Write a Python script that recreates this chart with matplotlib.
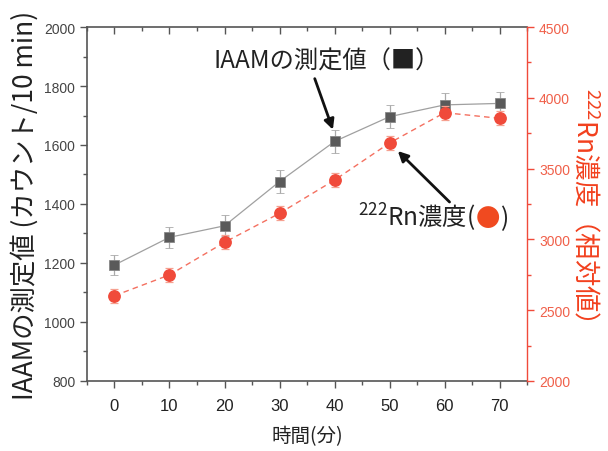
import matplotlib
matplotlib.use("Agg")
import matplotlib.pyplot as plt
from matplotlib.ticker import MultipleLocator

plt.rcParams['font.family'] = ['Liberation Sans', 'Noto Sans CJK JP', 'DejaVu Sans']
plt.rcParams['mathtext.default'] = 'regular'

time_min = [0, 10, 20, 30, 40, 50, 60, 70]
iaam = [1193, 1287, 1326, 1476, 1612, 1696, 1736, 1741]
iaam_err = [34, 36, 36, 38, 40, 40, 40, 40]
rn = [2602, 2749, 2979, 3184, 3419, 3681, 3895, 3855]
rn_err = [50, 50, 50, 50, 50, 50, 50, 50]

x_ticks = [0, 10, 20, 30, 40, 50, 60, 70]
left_ticks = [800, 1000, 1200, 1400, 1600, 1800, 2000]
right_ticks = [2000, 2500, 3000, 3500, 4000, 4500]

gray = '#555555'
red = '#f04a3a'
tick_red = '#f0604a'
label_red = '#f2401e'
CJK = ['Noto Sans CJK JP', 'DejaVu Sans']

fig = plt.figure(figsize=(6.08, 4.52), dpi=100)
ax = fig.add_axes([0.143, 0.155, 0.724, 0.783])
ax2 = ax.twinx()

ax.errorbar(time_min, iaam, yerr=iaam_err, fmt='s', color='#5a5a5a', ms=7.5,
            mec='#888888', mew=0.6, ecolor='#aaaaaa', elinewidth=0.9, capsize=3,
            capthick=0.9, zorder=3)
ax.plot(time_min, iaam, '-', color='#a0a0a0', lw=0.9, zorder=2)

ax2.errorbar(time_min, rn, yerr=rn_err, fmt='o', color=red, ms=8.2,
             mec=red, ecolor='#f6a090', elinewidth=0.9, capsize=3,
             capthick=0.9, zorder=3)
ax2.plot(time_min, rn, '--', color='#f47060', lw=1.0, dashes=(4, 3), zorder=2)

ax.set_xlim(-5, 75)
ax.set_ylim(800, 2000)
ax2.set_ylim(2000, 4500)
ax.set_xticks(x_ticks)
ax.set_yticks(left_ticks)
ax2.set_yticks(right_ticks)
ax.xaxis.set_minor_locator(MultipleLocator(5))
ax.yaxis.set_minor_locator(MultipleLocator(100))
ax2.yaxis.set_minor_locator(MultipleLocator(250))

for s in ['left', 'bottom', 'top']:
    ax.spines[s].set_color(gray)
    ax.spines[s].set_linewidth(1.2)
ax.spines['right'].set_visible(False)
for s in ['left', 'bottom', 'top']:
    ax2.spines[s].set_visible(False)
ax2.spines['right'].set_color(red)
ax2.spines['right'].set_linewidth(1.0)

ax.tick_params(axis='x', which='both', direction='out', top=False, color=gray,
               labelsize=12, labelcolor='#222222', pad=7)
ax.tick_params(axis='x', which='major', length=5, width=1)
ax.tick_params(axis='x', which='minor', length=3, width=1)
ax.tick_params(axis='y', which='both', direction='out', color=gray,
               labelsize=10, labelcolor='#444444')
ax.tick_params(axis='y', which='major', length=5, width=1)
ax.tick_params(axis='y', which='minor', length=3, width=1)
ax2.tick_params(axis='y', which='both', direction='out', color=red,
                labelsize=10, labelcolor=tick_red)
ax2.tick_params(axis='y', which='major', length=5, width=1)
ax2.tick_params(axis='y', which='minor', length=3, width=1)

# top ticks inward
secx = ax.secondary_xaxis('top')
secx.set_xticks(x_ticks)
secx.xaxis.set_minor_locator(MultipleLocator(5))
secx.tick_params(which='both', direction='in', color=gray, labeltop=False)
secx.tick_params(which='major', length=5, width=1)
secx.tick_params(which='minor', length=3, width=1)
secx.spines['top'].set_visible(False)

ax.set_xlabel('時間(分)', fontsize=14, color='#222222', labelpad=9, family=CJK)
ax.set_ylabel('IAAMの測定値 (カウント/10 min)', fontsize=19, color='#222222',
              labelpad=4, family=CJK)
ax2.set_ylabel('$^{222}$Rn濃度（相対値）', fontsize=19, color=label_red,
               rotation=270, labelpad=22, family=CJK)

# annotations
ax.text(38.5, 1885, 'IAAMの測定値（■）', fontsize=17.5, color='#222222',
        ha='center', va='center', family=CJK)
ax.annotate('', xy=(39.7, 1652), xytext=(36.4, 1825),
            arrowprops=dict(arrowstyle='-|>', color='#111111', lw=2.0,
                            mutation_scale=15, shrinkA=0, shrinkB=0))

tx, ty = 44.3, 3100
t1 = ax2.text(tx, ty, '$^{222}$Rn濃度(', fontsize=17.5, color='#222222',
              ha='left', va='baseline', family=CJK)
fig.canvas.draw()
w1 = t1.get_window_extent().width * 72.0 / fig.dpi
t2 = ax2.annotate('●', xy=(tx, ty), xytext=(w1, 0), textcoords='offset points',
                  fontsize=17.5, color='#f04a20', ha='left', va='baseline', family=CJK)
fig.canvas.draw()
w2 = t2.get_window_extent().width * 72.0 / fig.dpi
ax2.annotate(')', xy=(tx, ty), xytext=(w1 + w2, 0), textcoords='offset points',
             fontsize=17.5, color='#222222', ha='left', va='baseline', family=CJK)
ax2.annotate('', xy=(51.5, 3624), xytext=(60.9, 3264),
             arrowprops=dict(arrowstyle='-|>', color='#111111', lw=2.0,
                             mutation_scale=15, shrinkA=0, shrinkB=0))

fig.savefig('out.png', dpi=100)
